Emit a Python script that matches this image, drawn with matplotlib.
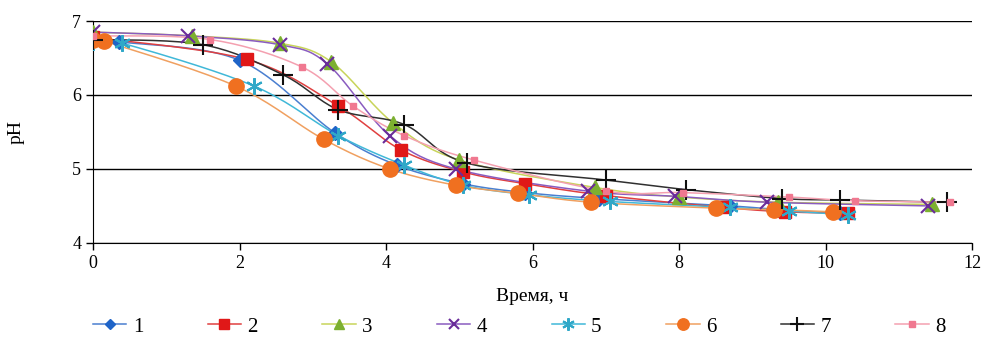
import numpy as np
import matplotlib.pyplot as plt

plt.rcParams["font.family"] = ["Liberation Serif", "DejaVu Serif"]

# время (ч) и pH для восьми образцов
t1 = [0, 0.35, 2.0, 3.3, 4.15, 5.05, 5.9, 6.9, 8.7, 9.35, 10.2]
ph1 = [6.75, 6.72, 6.47, 5.49, 5.05, 4.8, 4.68, 4.6, 4.5, 4.45, 4.4]
t2 = [0, 2.1, 3.35, 4.2, 5.05, 5.9, 7.0, 8.6, 9.45, 10.3]
ph2 = [6.78, 6.48, 5.85, 5.26, 4.96, 4.8, 4.64, 4.48, 4.42, 4.4]
t3 = [0, 1.35, 2.55, 3.25, 4.1, 5.0, 6.85, 8.0, 9.35, 11.45]
ph3 = [6.85, 6.8, 6.7, 6.45, 5.62, 5.12, 4.75, 4.62, 4.55, 4.52]
t4 = [0, 1.3, 2.55, 3.2, 4.05, 4.95, 6.75, 7.95, 9.2, 11.4]
ph4 = [6.85, 6.8, 6.68, 6.42, 5.45, 5.0, 4.7, 4.63, 4.55, 4.5]
t5 = [0, 0.4, 2.2, 3.35, 4.25, 5.05, 5.95, 7.05, 8.7, 9.5, 10.3]
ph5 = [6.72, 6.7, 6.12, 5.45, 5.05, 4.78, 4.65, 4.56, 4.48, 4.43, 4.38]
t6 = [0, 0.15, 1.95, 3.15, 4.05, 4.95, 5.8, 6.8, 8.5, 9.3, 10.1]
ph6 = [6.75, 6.73, 6.12, 5.4, 5.0, 4.78, 4.67, 4.55, 4.47, 4.45, 4.42]
t7 = [0, 1.5, 2.6, 3.35, 4.25, 5.1, 7.0, 8.1, 9.4, 10.2, 11.65]
ph7 = [6.75, 6.68, 6.27, 5.8, 5.6, 5.08, 4.85, 4.72, 4.6, 4.58, 4.55]
t8 = [0, 1.6, 2.85, 3.55, 4.25, 5.2, 7.0, 8.05, 9.5, 10.4, 11.7]
ph8 = [6.8, 6.75, 6.38, 5.85, 5.45, 5.12, 4.7, 4.68, 4.62, 4.57, 4.55]

labels = ["1", "2", "3", "4", "5", "6", "7", "8"]


def smooth(x, y, n=20):
    # сглаженная линия через точки (Catmull-Rom)
    x = np.asarray(x, float)
    y = np.asarray(y, float)
    px = np.r_[x[0], x, x[-1]]
    py = np.r_[y[0], y, y[-1]]
    xs, ys = [], []
    s = np.linspace(0, 1, n)
    for i in range(1, len(px) - 2):
        for p, out in ((px, xs), (py, ys)):
            p0, p1, p2, p3 = p[i - 1], p[i], p[i + 1], p[i + 2]
            out.extend(0.5 * (2 * p1 + (-p0 + p2) * s
                              + (2 * p0 - 5 * p1 + 4 * p2 - p3) * s ** 2
                              + (-p0 + 3 * p1 - 3 * p2 + p3) * s ** 3))
    return xs, ys


star = (6, 2, 0)
series = [
    (t1, ph1, "#4a7fd0", "D", "#1f64c8", 7, 1),
    (t2, ph2, "#e04040", "s", "#e01818", 9, 1),
    (t3, ph3, "#c8d45a", "^", "#7cb030", 10, 1),
    (t4, ph4, "#8a5cc0", "x", "#6a2c9a", 10, 1.5),
    (t5, ph5, "#40b8d8", star, "#30a8c8", 12, 1.5),
    (t6, ph6, "#f0a060", "o", "#f07020", 11, 1),
    (t7, ph7, "#303030", "+", "#101010", 14, 1.5),
    (t8, ph8, "#f4a0b0", "s", "#f07890", 5, 1),
]

fig = plt.figure(figsize=(9.89, 3.45), dpi=100)
ax = fig.add_axes([0.094, 0.296, 0.889, 0.643])

handles = []
for (x, y, lc, m, mc, ms, mew), lab in zip(series, labels):
    sx, sy = smooth(x, y)
    ax.plot(sx, sy, color=lc, lw=1.1, zorder=2)
    ax.plot(x, y, ls="none", marker=m, ms=ms, color=mc, mec=mc,
            mew=mew, zorder=3)
    h, = ax.plot([], [], color=lc, lw=1.1, marker=m, ms=ms * 0.75,
                 mfc=mc, mec=mc, mew=mew)
    handles.append(h)

ax.set_xlim(0, 12)
ax.set_ylim(4, 7)
ax.set_xticks(range(0, 13, 2))
ax.set_yticks([4, 5, 6, 7])
ax.yaxis.grid(True, color="black", lw=1.0)
for s in ["top", "right"]:
    ax.spines[s].set_visible(False)
ax.tick_params(labelsize=13, length=5, width=1)
ax.set_xlabel("Время, ч", fontsize=14, labelpad=12)
ax.set_ylabel("pH", fontsize=14, labelpad=34)

fig.legend(handles, labels, loc="lower center", ncol=8, frameon=False,
           fontsize=15, bbox_to_anchor=(0.525, -0.03), handlelength=1.6,
           handletextpad=0.3, columnspacing=3.1)

fig.savefig("out.png", dpi=100)
